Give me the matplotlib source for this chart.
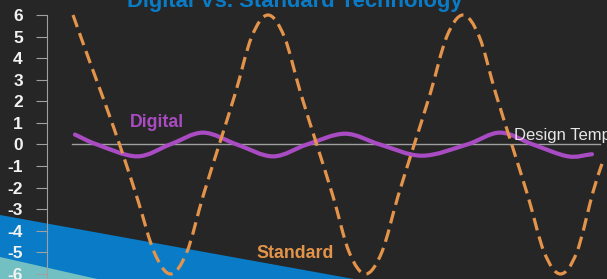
import numpy as np
import matplotlib
matplotlib.use("Agg")
import matplotlib.pyplot as plt
from matplotlib.path import Path
from matplotlib.patches import PathPatch, Polygon

plt.rcParams['font.family'] = ['Liberation Sans', 'DejaVu Sans']

# ---------------- data ----------------
title = "Digital Vs. Standard Technology"
y_ticks = [-6, -5, -4, -3, -2, -1, 0, 1, 2, 3, 4, 5, 6]
y_tick_labels = ["-6", "-5", "-4", "-3", "-2", "-1", "0", "1", "2", "3", "4", "5", "6"]

standard_x = [0, 1, 2, 3, 4, 5, 6, 7, 8, 9, 10, 11, 12, 13, 14, 15, 16, 17, 18,
              19, 20, 21, 22, 23, 24, 25, 26, 27, 28, 29, 30, 31, 32, 32.55]
standard_y = [6, 3.9, 1.85, -0.3, -2.6, -5.0, -6, -5.0, -2.4, 0, 2.4, 5.0, 6,
              5.0, 2.4, 0, -2.4, -5.0, -6, -5.0, -2.4, 0, 2.4, 5.0, 6,
              5.0, 2.4, 0, -2.4, -5.0, -6, -5.0, -2.2, -0.9]

digital_x = [0.12, 1.48, 3.94, 5.97, 8.0, 10.09, 12.31, 14.4, 16.74, 18.89,
             21.48, 24.25, 26.28, 28.31, 30.46, 31.94]
digital_y = [0.46, 0.0, -0.55, 0.0, 0.55, 0.0, -0.55, 0.0, 0.5, 0.0,
             -0.52, 0.0, 0.55, 0.0, -0.55, -0.45]

design_temp = 0.0
design_x = [-0.06, 32.43]

# ---------------- style ----------------
BG = '#262626'
ORANGE = '#e3944a'
PURPLE = '#a94bc2'
BLUE = '#0a7cc7'
TEAL = '#72c0c2'
GRAY = '#a0a0a0'

W, H = 607, 279
fig = plt.figure(figsize=(W / 100, H / 100), dpi=100, facecolor=BG)
ax = fig.add_axes([47 / W, 0, 560 / W, 1])
ax.set_facecolor('none')
ax.set_xlim(-1.6, 32.862)
ax.set_ylim(-6.232, 6.695)


def px(x, y):
    return (x / W, 1 - y / H)


# decorative bands
fig.add_artist(Polygon([px(0, 215), px(420, 291), px(0, 320)], closed=True,
                       facecolor=BLUE, edgecolor='none', zorder=-2,
                       transform=fig.transFigure))
fig.add_artist(Polygon([px(0, 257), px(150, 291), px(0, 320)], closed=True,
                       facecolor=TEAL, edgecolor='none', zorder=-1,
                       transform=fig.transFigure))


def smooth_path(xs, ys):
    pts = np.column_stack([xs, ys]).astype(float)
    n = len(pts)
    tan = np.zeros_like(pts)
    tan[1:-1] = (pts[2:] - pts[:-2]) / 2
    tan[0] = pts[1] - pts[0]
    tan[-1] = pts[-1] - pts[-2]
    verts = [pts[0]]
    codes = [Path.MOVETO]
    for i in range(n - 1):
        verts += [pts[i] + tan[i] / 3, pts[i + 1] - tan[i + 1] / 3, pts[i + 1]]
        codes += [Path.CURVE4] * 3
    return Path(verts, codes)


# design temp line
ax.plot(design_x, [design_temp, design_temp], color=GRAY, lw=1.0, zorder=2)
ax.text(27.14, 0.23, "Design Temp", color='#e6e6e6', fontsize=12,
        ha='left', va='baseline', zorder=5, clip_on=False)

# digital curve
ax.add_patch(PathPatch(smooth_path(digital_x, digital_y), fill=False,
                       edgecolor=PURPLE, lw=3.0, zorder=3, capstyle='round'))
# standard curve
ax.add_patch(PathPatch(smooth_path(standard_x, standard_y), fill=False,
                       edgecolor=ORANGE, lw=2.3, zorder=4,
                       linestyle=(0, (4, 2))))

ax.text(3.51, 0.79, "Digital", color=PURPLE, fontsize=12.8, fontweight='bold',
        ha='left', va='baseline')
ax.text(11.32, -5.28, "Standard", color=ORANGE, fontsize=12.8, fontweight='bold',
        ha='left', va='baseline')

fig.text(295 / W, 1 - 7 / H, title, color=BLUE, fontsize=15.8,
         fontweight='bold', ha='center', va='baseline')

# axes styling
for s in ['top', 'right', 'bottom']:
    ax.spines[s].set_visible(False)
ax.spines['left'].set_color(GRAY)
ax.spines['left'].set_linewidth(0.8)
ax.spines['left'].set_bounds(-6.3, 6)
ax.set_xticks([])
ax.set_yticks(y_ticks)
ax.set_yticklabels(y_tick_labels, fontweight='bold')
ax.tick_params(axis='y', length=8, width=0.8, color=GRAY, pad=9.4,
               labelsize=12.5, labelcolor='#f2f2f2')

fig.savefig('out.png', dpi=100, facecolor=BG)
